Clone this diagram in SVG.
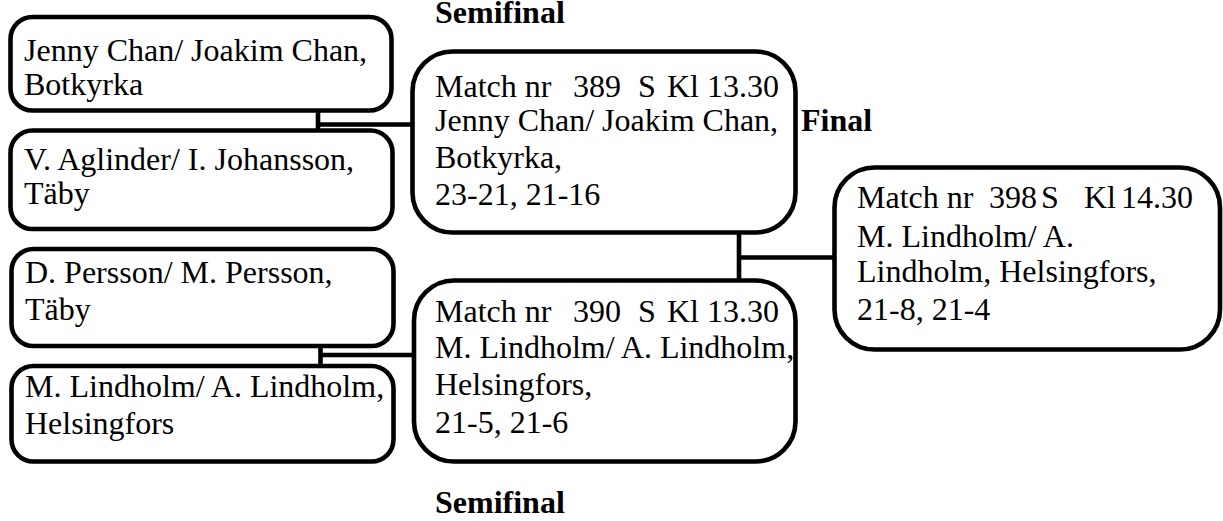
<svg xmlns="http://www.w3.org/2000/svg" width="1223" height="521" viewBox="0 0 1223 521">
<style>
.box{fill:#fff;stroke:#000;stroke-width:4.6}
.t{font-family:"Liberation Serif","Times New Roman",serif;font-size:32px;fill:#000}
.b{font-family:"Liberation Serif","Times New Roman",serif;font-size:32px;font-weight:bold;fill:#000}
.c{fill:none;stroke:#000;stroke-width:4.6}
</style>
<rect width="1223" height="521" fill="#fff"/>
<g id="connectors">
<path class="c" d="M318 110 V130 M318 124.5 H412"/>
<path class="c" d="M320.5 346 V366 M320.5 355 H414"/>
<path class="c" d="M739 232 V281 M739 257.5 H834"/>
</g>
<g id="team1">
<rect class="box" x="10.5" y="17" width="381" height="93.5" rx="22"/>
<text class="t" x="24" y="61">Jenny Chan/ Joakim Chan,</text>
<text class="t" x="24" y="95">Botkyrka</text>
</g>
<g id="team2">
<rect class="box" x="10.5" y="130.5" width="382" height="98.5" rx="22"/>
<text class="t" x="24" y="170">V. Aglinder/ I. Johansson,</text>
<text class="t" x="24" y="204">Täby</text>
</g>
<g id="team3">
<rect class="box" x="11.5" y="249" width="382" height="97" rx="22"/>
<text class="t" x="25" y="283">D. Persson/ M. Persson,</text>
<text class="t" x="25" y="320">Täby</text>
</g>
<g id="team4">
<rect class="box" x="11.5" y="366" width="382" height="95.5" rx="22"/>
<text class="t" x="25" y="397">M. Lindholm/ A. Lindholm,</text>
<text class="t" x="25" y="434">Helsingfors</text>
</g>
<g id="match389">
<rect class="box" x="412.5" y="51.5" width="383" height="181" rx="40"/>
<text class="t" y="97"><tspan x="435">Match nr</tspan><tspan x="573">389</tspan><tspan x="638">S</tspan><tspan x="667">Kl</tspan><tspan x="707">13.30</tspan></text>
<text class="t" x="435" y="131">Jenny Chan/ Joakim Chan,</text>
<text class="t" x="435" y="168">Botkyrka,</text>
<text class="t" x="435" y="205">23-21, 21-16</text>
</g>
<g id="match390">
<rect class="box" x="414" y="280.5" width="381.5" height="181" rx="40"/>
<text class="t" y="322"><tspan x="435">Match nr</tspan><tspan x="573">390</tspan><tspan x="638">S</tspan><tspan x="667">Kl</tspan><tspan x="707">13.30</tspan></text>
<text class="t" x="435" y="358">M. Lindholm/ A. Lindholm,</text>
<text class="t" x="435" y="395">Helsingfors,</text>
<text class="t" x="435" y="433">21-5, 21-6</text>
</g>
<g id="match398">
<rect class="box" x="834.5" y="167.5" width="385.5" height="182" rx="40"/>
<text class="t" y="208"><tspan x="857">Match nr</tspan><tspan x="989">398</tspan><tspan x="1041">S</tspan><tspan x="1084">Kl</tspan><tspan x="1121">14.30</tspan></text>
<text class="t" x="857" y="247">M. Lindholm/ A.</text>
<text class="t" x="857" y="282">Lindholm, Helsingfors,</text>
<text class="t" x="857" y="320">21-8, 21-4</text>
</g>
<g id="labels">
<text class="b" x="435" y="23">Semifinal</text>
<text class="b" x="801" y="131">Final</text>
<text class="b" x="435" y="513">Semifinal</text>
</g>
</svg>
